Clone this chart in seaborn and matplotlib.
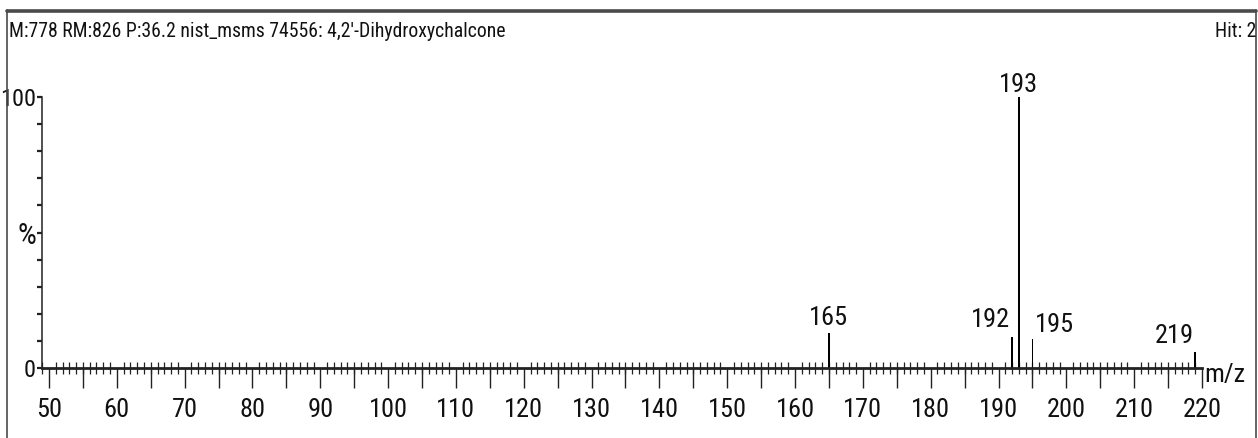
import matplotlib
matplotlib.use("Agg")
import matplotlib.pyplot as plt
from matplotlib.lines import Line2D
from matplotlib import font_manager
import seaborn as sns

# Spectrum peaks (m/z and relative intensity, %)
mz = [165, 192, 193, 195, 219]
intensity = [12.9, 11.4, 100.0, 10.7, 5.9]
peak_labels = ["165", "192", "193", "195", "219"]

x_major = list(range(50, 221, 10))
x_major_labels = [str(v) for v in x_major]
y_ticks = [0, 50, 100]
y_tick_labels = ["0", "%", "100"]

header_left = "M:778 RM:826 P:36.2 nist_msms 74556: 4,2'-Dihydroxychalcone"
header_right = "Hit: 2"
axis_unit = "m/z"

sns.set_theme(style="white")
installed = {f.name for f in font_manager.fontManager.ttflist}
narrow = [f for f in ["Liberation Sans Narrow", "Roboto Condensed", "Open Sans Condensed",
                      "DejaVu Sans Condensed"] if f in installed]
families = narrow + [f for f in ["Liberation Sans", "DejaVu Sans"] if f in installed]
plt.rcParams["font.family"] = families
is_narrow = bool(narrow)

tick_fs = 19 if is_narrow else 15
ylab_fs = 17.5 if is_narrow else 14
head_fs = 14.2 if is_narrow else 12.6

W, H = 1258, 438
fig = plt.figure(figsize=(W / 100, H / 100), dpi=100)
ax = fig.add_axes([42 / W, (H - 368) / H, (1202 - 42) / W, (368 - 97) / H])

sns.histplot(x=mz, weights=intensity, discrete=True, shrink=0.22,
             color="black", alpha=1, linewidth=0, ax=ax)

ax.set_xlim(48.97, 220)
ax.set_ylim(0, 100)
ax.set_xlabel("")
ax.set_ylabel("")

# Axes spines
for side in ("top", "right"):
    ax.spines[side].set_visible(False)
ax.spines["left"].set_bounds(0, 100)
ax.spines["left"].set_linewidth(1.1)
ax.spines["left"].set_color("#222222")
ax.spines["bottom"].set_linewidth(2.0)
ax.spines["bottom"].set_color("#222222")

# x ticks: labelled every 10, short ticks every 1
ax.set_xticks(x_major)
ax.set_xticklabels(x_major_labels)
ax.tick_params(axis="x", which="major", direction="out", length=14.5, width=1.0,
               color="#222222", labelsize=tick_fs, pad=7, bottom=True,
               labelcolor="#111111")
ax.xaxis.set_minor_locator(matplotlib.ticker.MultipleLocator(1))
ax.tick_params(axis="x", which="minor", direction="inout", length=8, width=0.9,
               color="#222222", bottom=True)

# long ticks at the halfway marks, without labels
half = ax.secondary_xaxis(0)
half.set_xticks(list(range(55, 220, 10)))
half.set_xticklabels([])
half.tick_params(axis="x", direction="out", length=14.5, width=1.0, color="#222222")
half.spines["bottom"].set_visible(False)

# y ticks
ax.set_yticks(y_ticks)
ax.set_yticklabels(y_tick_labels)
ax.set_yticks(range(0, 101, 10), minor=True)
ax.tick_params(axis="y", which="both", direction="out", length=3.8, width=1.6,
               color="#222222", left=True, labelsize=ylab_fs, pad=0.5,
               labelcolor="#111111")
# the percent sign is drawn a little larger
for lbl in ax.get_yticklabels():
    if lbl.get_text() == "%":
        lbl.set_fontsize(ylab_fs + 4)

# Peak annotations (offsets in pixels)
offsets = {"165": (0, 8, "center"), "192": (-2, 10, "right"), "193": (0, 5, "center"),
           "195": (2, 7, "left"), "219": (-1, 9, "right")}
for m, v, lab in zip(mz, intensity, peak_labels):
    dx, dy, ha = offsets[lab]
    ax.annotate(lab, xy=(m, v), xytext=(dx, dy), textcoords="offset pixels",
                ha=ha, va="baseline", fontsize=tick_fs, color="#111111",
                annotation_clip=False)

ax.annotate(axis_unit, xy=(1, 0), xycoords="axes fraction", xytext=(2, -14),
            textcoords="offset pixels", ha="left", va="baseline",
            fontsize=tick_fs, color="#111111", annotation_clip=False)

# Header texts
fig.text(9 / W, (H - 37) / H, header_left, ha="left", va="baseline",
         fontsize=head_fs, color="#111111")
fig.text(1256 / W, (H - 37) / H, header_right, ha="right", va="baseline",
         fontsize=head_fs, color="#111111")

# Window frame
fig.add_artist(Line2D([7 / W, 1256 / W], [(H - 10.5) / H] * 2, color="#4a4a4a",
                      linewidth=2.6, transform=fig.transFigure))
fig.add_artist(Line2D([7 / W, 7 / W], [0, (H - 10) / H], color="#4a4a4a",
                      linewidth=1.2, transform=fig.transFigure))
fig.add_artist(Line2D([1256 / W, 1256 / W], [0, (H - 10) / H], color="#4a4a4a",
                      linewidth=1.2, transform=fig.transFigure))

fig.savefig("out.png", dpi=100, facecolor="white")
